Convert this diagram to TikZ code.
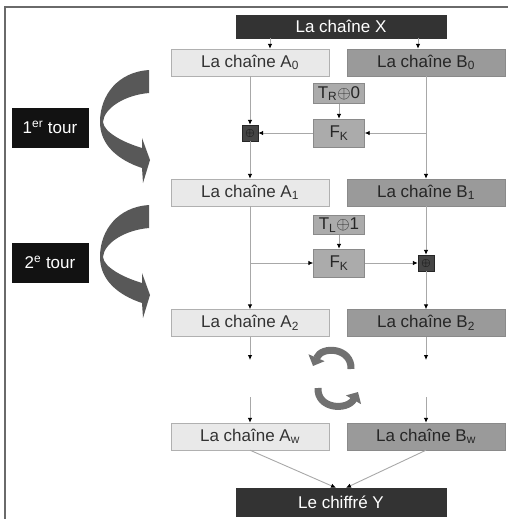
\documentclass[tikz,border=0pt]{standalone}
\usepackage{fontspec}
\setmainfont{Liberation Sans}
\usetikzlibrary{arrows.meta, calc}
\definecolor{boxdark}{HTML}{333333}
\definecolor{boxlight}{HTML}{E9E9E9}
\definecolor{boxmid}{HTML}{9A9A9A}
\definecolor{boxkey}{HTML}{ABABAB}
\definecolor{edgelight}{HTML}{B0B0B0}
\definecolor{edgemid}{HTML}{8A8A8A}
\definecolor{xordark}{HTML}{454545}
\definecolor{linegray}{HTML}{A8A8A8}
\definecolor{arrowgray}{HTML}{585858}
\definecolor{framegray}{HTML}{6A6A6A}

\begin{document}
\begin{tikzpicture}[x=1pt, y=-1pt,
  chainbox/.style={rectangle, inner sep=0pt, minimum width=158pt, minimum height=27pt, font=\fontsize{17}{20}\selectfont},
  chainA/.style={chainbox, fill=boxlight, draw=edgelight, text=black!80},
  chainB/.style={chainbox, fill=boxmid, draw=edgemid, text=black!85},
  chainXY/.style={chainbox, fill=boxdark, draw=boxdark, text=white, minimum width=210pt},
  keybox/.style={chainbox, fill=boxkey, draw=edgemid, text=black!85, minimum width=51pt},
  xorbox/.style={rectangle, inner sep=0pt, minimum size=16pt, fill=xordark, draw=black!85, font=\fontsize{12}{12}\selectfont},
  tourbox/.style={chainbox, fill=black!93, draw=black!93, text=white, minimum width=76pt, minimum height=39pt},
  conn/.style={draw=linegray, line width=0.9pt, -{Latex[length=5pt,width=4.5pt,color=black]}},
  bigarrow/.style={fill=arrowgray, draw=none},
  cyclearrow/.style={draw=arrowgray!85, line width=7pt, -{Triangle[length=9pt,width=17pt]}}
]
\pgfmathsetmacro{\xA}{250}
\pgfmathsetmacro{\xB}{426}
\pgfmathsetmacro{\dRound}{135}

\useasboundingbox (0,0) rectangle (508,519);
\draw[framegray, line width=1.5pt] (5,519) -- (5,7) -- (508,7);

% Chains
\node[chainXY, minimum height=23pt] (X) at (341,26.5) {La chaîne X};
\node[chainA] (A0) at (\xA,62.5) {La chaîne A\textsubscript{0}};
\node[chainB] (B0) at (\xB,62.5) {La chaîne B\textsubscript{0}};
\node[chainA] (A1) at (\xA,192.5) {La chaîne A\textsubscript{1}};
\node[chainB] (B1) at (\xB,192.5) {La chaîne B\textsubscript{1}};
\node[chainA] (A2) at (\xA,323) {La chaîne A\textsubscript{2}};
\node[chainB] (B2) at (\xB,323) {La chaîne B\textsubscript{2}};
\node[chainA] (Aw) at (\xA,436.5) {La chaîne A\textsubscript{w}};
\node[chainB] (Bw) at (\xB,436.5) {La chaîne B\textsubscript{w}};
\node[chainXY, minimum height=28pt] (Y) at (341,502) {Le chiffré Y};

% Round functions
\node[keybox, minimum height=20pt] (TR) at (339,93.5) {T\textsubscript{R}$\oplus$0};
\node[keybox, minimum height=28pt] (FK1) at (339,133) {F\textsubscript{K}};
\node[xorbox] (xor1) at (\xA,133) {$\oplus$};
\node[keybox, minimum height=19pt] (TL) at (339,225) {T\textsubscript{L}$\oplus$1};
\node[keybox, minimum height=28pt] (FK2) at (339,263) {F\textsubscript{K}};
\node[xorbox] (xor2) at (\xB,263) {$\oplus$};

% Tours
\node[tourbox] (tour1) at (50,127.5) {1\textsuperscript{er} tour};
\node[tourbox] (tour2) at (50,262.5) {2\textsuperscript{e} tour};
\foreach \dy in {0,\dRound} {
  \begin{scope}[shift={(0,\dy)}]
    \fill[bigarrow] (149,70) .. controls (118,72) and (100,95) .. (100,122)
      .. controls (100,145) and (118,160) .. (142,168) -- (143,183) -- (150,160)
      -- (142,138) -- (142,148) .. controls (122,142) and (104,132) .. (103,122)
      .. controls (104,108) and (125,95) .. (149,93) -- cycle;
  \end{scope}
}

% Connectors
\draw[conn] (X.south -| 270,0) -- (A0.north -| 270,0);
\draw[conn] (X.south -| 418,0) -- (B0.north -| 418,0);
\draw[conn] (A0.south) -- (xor1.north);
\draw[conn] (xor1.south) -- (A1.north);
\draw[conn] (TR.south) -- (FK1.north);
\draw[conn] (B0.south) -- (B1.north);
\draw[conn] (FK1.east -| B0.south) -- (FK1.east);
\draw[conn] (FK1.west) -- (xor1.east);

\draw[conn] (A1.south) -- (A2.north);
\draw[conn] (FK2.west -| A1.south) -- (FK2.west);
\draw[conn] (TL.south) -- (FK2.north);
\draw[conn] (FK2.east) -- (xor2.west);
\draw[conn] (B1.south) -- (xor2.north);
\draw[conn] (xor2.south) -- (B2.north);

\coordinate (a2end) at (\xA,360);
\coordinate (b2end) at (\xB,360);
\coordinate (awstart) at (\xA,397);
\coordinate (bwstart) at (\xB,397);
\draw[conn] (A2.south) -- (a2end);
\draw[conn] (B2.south) -- (b2end);
\draw[conn] (awstart) -- (Aw.north);
\draw[conn] (bwstart) -- (Bw.north);
\draw[conn] (Aw.south) -- (Y.north -| 336,0);
\draw[conn] (Bw.south) -- (Y.north -| 346,0);

% Cycle
\draw[cyclearrow] (351,369) .. controls (352,348) and (322,345) .. (313,366);
\draw[cyclearrow] (318,388) .. controls (317,409) and (347,411) .. (358,392);
\end{tikzpicture}
\end{document}
